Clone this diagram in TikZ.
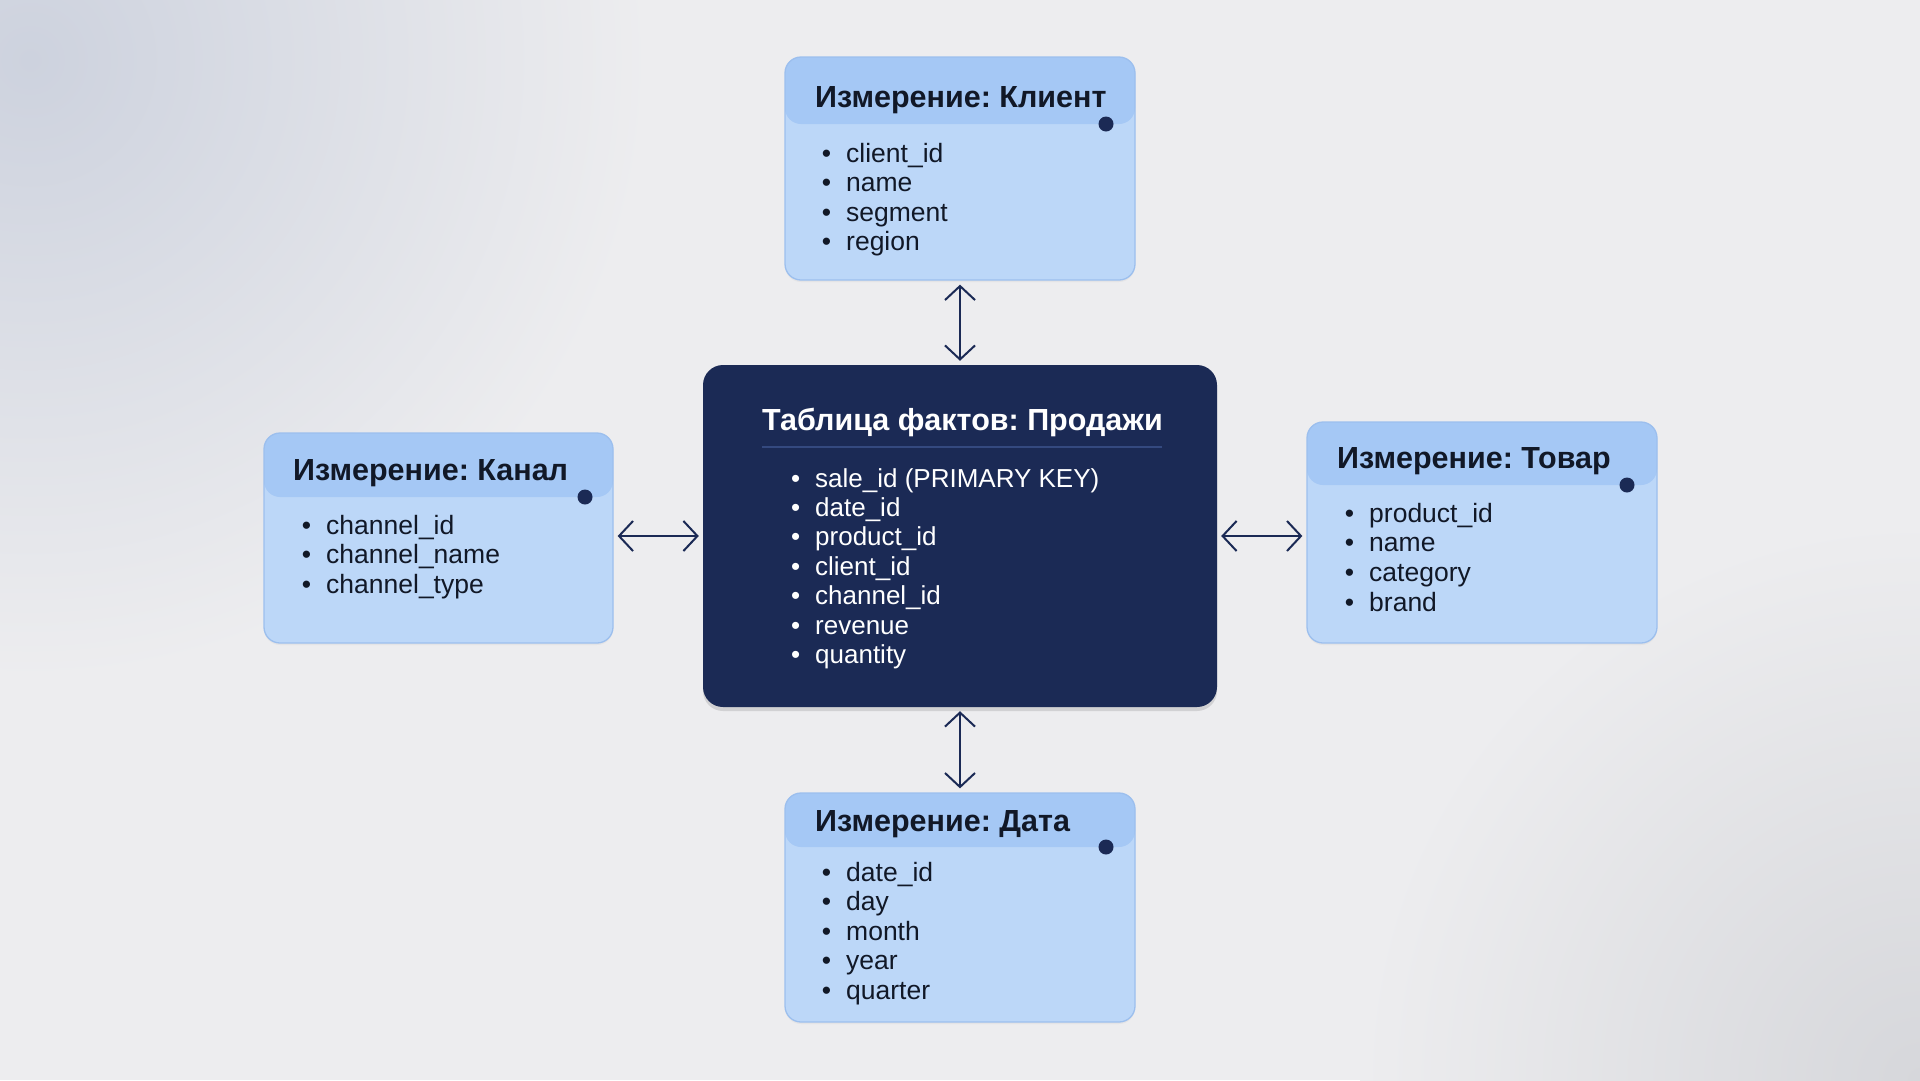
\documentclass[tikz,border=0pt]{standalone}
\usepackage{fontspec}
\setmainfont{Liberation Sans}
\usetikzlibrary{arrows.meta,shadows}
\definecolor{bg}{HTML}{EDEDEF}
\definecolor{bgtl}{HTML}{CDD2DE}
\definecolor{bgbr}{HTML}{D6D7DB}
\definecolor{dimbody}{HTML}{BCD7F8}
\definecolor{dimhead}{HTML}{A5C8F5}
\definecolor{dimborder}{HTML}{9CBFEE}
\definecolor{navy}{HTML}{1B2A55}
\definecolor{ink}{HTML}{111827}
\definecolor{rulecol}{HTML}{34497F}
\frenchspacing
\tikzset{
  dimbox/.style={fill=dimbody, draw=dimborder, line width=1.3pt, rounded corners=16pt, inner sep=0pt,
    drop shadow={opacity=0.08, shadow xshift=0pt, shadow yshift=-2pt},
    path picture={\fill[dimhead] (path picture bounding box.north west) rectangle ([yshift=-#1]path picture bounding box.north east);}},
  factbox/.style={fill=navy, rounded corners=20pt, inner sep=0pt,
    drop shadow={opacity=0.25, shadow xshift=0pt, shadow yshift=-4pt}},
  dimtitle/.style={anchor=base west, inner sep=0pt, text=ink, font=\fontsize{30.5}{34}\selectfont\bfseries},
  facttitle/.style={anchor=base west, inner sep=0pt, text=white, font=\fontsize{30.5}{34}\selectfont\bfseries},
  dimitem/.style={anchor=base west, inner sep=0pt, text=ink, font=\fontsize{26.5}{30}\selectfont},
  factitem/.style={anchor=base west, inner sep=0pt, text=white, font=\fontsize{26}{30}\selectfont},
  keydot/.style={circle, fill=navy, minimum size=15pt, inner sep=0pt},
  link/.style={draw=navy, line width=2pt, {Straight Barb[length=14pt,width=30pt,line width=2pt]}-{Straight Barb[length=14pt,width=30pt,line width=2pt]}, shorten <=4pt, shorten >=4pt}
}
\newcommand{\bul}[1]{\llap{\textbullet\hspace{15pt}}#1}
\begin{document}
\begin{tikzpicture}[x=1pt,y=-1pt]
\useasboundingbox (0,0) rectangle (1920,1080);
\fill[bg] (0,0) rectangle (1920,1080);
\begin{scope}
  \clip (0,0) rectangle (1920,1080);
  \shade[inner color=bgtl, outer color=bg] (30,60) circle (620);
  \shade[inner color=bgbr, outer color=bg] (1920,1080) circle (560);
\end{scope}

% fact table
\node[factbox, minimum width=514pt, minimum height=342pt] (fact) at (960,536) {};
\node[facttitle] (fact-title) at (762,430) {Таблица фактов: Продажи};
\draw[rulecol, line width=1.2pt] (762,447) -- (1162,447);
\foreach \t [count=\i] in {sale\_id (PRIMARY KEY), date\_id, product\_id, client\_id, channel\_id, revenue, quantity}
  \node[factitem] (fact-\i) at ({815},{487+29.4*(\i-1)}) {\bul{\t}};

% client
\node[dimbox=67pt, minimum width=350pt, minimum height=223pt] (client) at (960,168.5) {};
\node[dimtitle] (client-title) at (815,107) {Измерение: Клиент};
\node[keydot] (client-dot) at (1106,124) {};
\foreach \t [count=\i] in {client\_id, name, segment, region}
  \node[dimitem] (client-\i) at ({846},{162+29.6*(\i-1)}) {\bul{\t}};

% channel
\node[dimbox=64pt, minimum width=349pt, minimum height=210pt] (channel) at (438.5,538) {};
\node[dimtitle] (channel-title) at (293,480) {Измерение: Канал};
\node[keydot] (channel-dot) at (585,497) {};
\foreach \t [count=\i] in {channel\_id, channel\_name, channel\_type}
  \node[dimitem] (channel-\i) at ({326},{534+29.8*(\i-1)}) {\bul{\t}};

% product
\node[dimbox=63pt, minimum width=350pt, minimum height=221pt] (product) at (1482,532.5) {};
\node[dimtitle] (product-title) at (1337,468) {Измерение: Товар};
\node[keydot] (product-dot) at (1627,485) {};
\foreach \t [count=\i] in {product\_id, name, category, brand}
  \node[dimitem] (product-\i) at ({1369},{522+29.7*(\i-1)}) {\bul{\t}};

% date
\node[dimbox=54pt, minimum width=350pt, minimum height=229pt] (date) at (960,907.5) {};
\node[dimtitle] (date-title) at (815,831) {Измерение: Дата};
\node[keydot] (date-dot) at (1106,847) {};
\foreach \t [count=\i] in {date\_id, day, month, year, quarter}
  \node[dimitem] (date-\i) at ({846},{881+29.5*(\i-1)}) {\bul{\t}};

% links
\draw[link] (client.south) -- (client.south |- fact.north);
\draw[link] (fact.south) -- (fact.south |- date.north);
\draw[link] (channel.east |- fact.west) -- (fact.west);
\draw[link] (fact.east) -- (product.west |- fact.east);
\end{tikzpicture}
\end{document}
